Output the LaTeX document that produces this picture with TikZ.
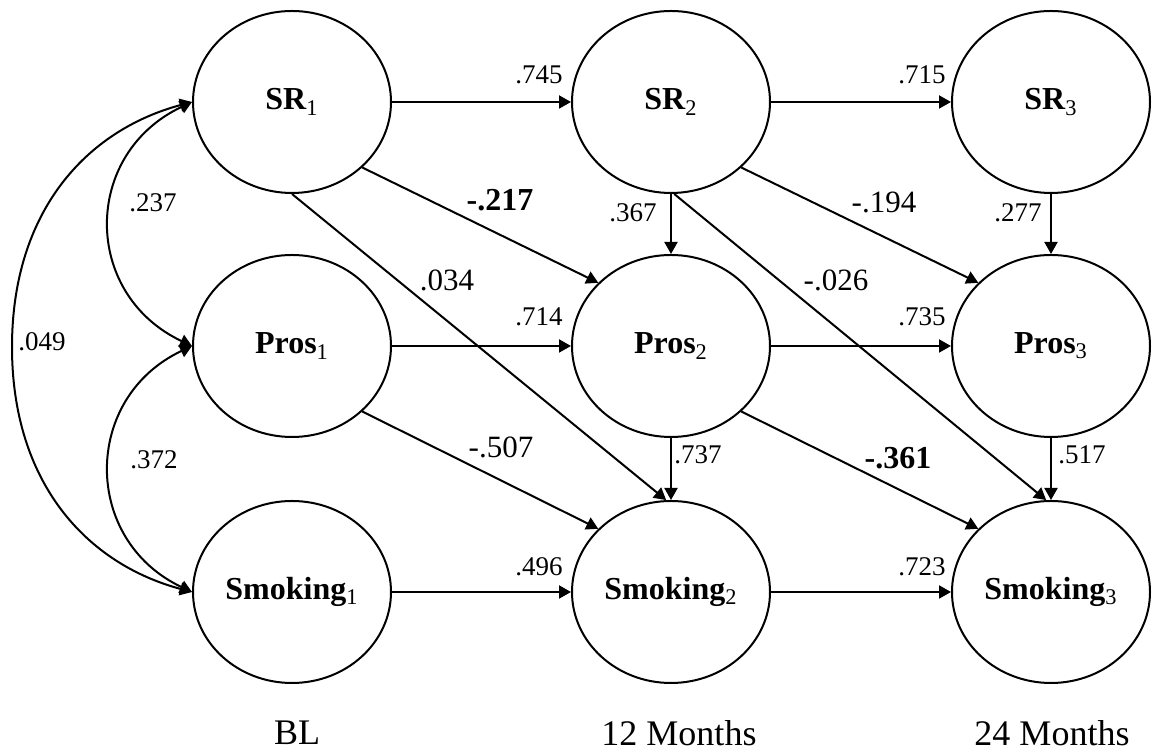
\documentclass[tikz,border=0pt]{standalone}
\usepackage{fontspec}
\setmainfont{Liberation Serif}
\usetikzlibrary{shapes.geometric,arrows.meta}
\begin{document}
\begin{tikzpicture}[x=0.5pt,y=0.5pt,
  lat/.style={ellipse, draw, line width=1pt, minimum width=99pt, minimum height=91pt, inner sep=0pt, font=\fontsize{16pt}{18pt}\selectfont},
  conn/.style={line width=1pt, -{Triangle[length=6pt,width=6.5pt]}},
  dconn/.style={line width=1pt, {Triangle[length=6pt,width=6.5pt]}-{Triangle[length=6pt,width=6.5pt]}},
  lbl/.style={inner sep=0pt, font=\fontsize{13.5pt}{15pt}\selectfont},
  lblbig/.style={inner sep=0pt, font=\fontsize{15.5pt}{17pt}\selectfont},
  lblbold/.style={inner sep=0pt, font=\fontsize{16pt}{18pt}\selectfont\bfseries},
  timelbl/.style={inner sep=0pt, font=\fontsize{18pt}{20pt}\selectfont}]
\useasboundingbox (0,0) rectangle (1152,753);
% latent variables
\node[lat] (SR1) at (292,651) {{\bfseries SR}\textsubscript{1}};
\node[lat] (SR2) at (671,651) {{\bfseries SR}\textsubscript{2}};
\node[lat] (SR3) at (1051,651) {{\bfseries SR}\textsubscript{3}};
\node[lat] (P1) at (292,407) {{\bfseries Pros}\textsubscript{1}};
\node[lat] (P2) at (671,407) {{\bfseries Pros}\textsubscript{2}};
\node[lat] (P3) at (1051,407) {{\bfseries Pros}\textsubscript{3}};
\node[lat] (S1) at (292,161) {{\bfseries Smoking}\textsubscript{1}};
\node[lat] (S2) at (671,161) {{\bfseries Smoking}\textsubscript{2}};
\node[lat] (S3) at (1051,161) {{\bfseries Smoking}\textsubscript{3}};
% horizontal paths
\draw[conn] (SR1.east) -- (SR2.west);
\draw[conn] (SR2.east) -- (SR3.west);
\draw[conn] (P1.east) -- (P2.west);
\draw[conn] (P2.east) -- (P3.west);
\draw[conn] (S1.east) -- (S2.west);
\draw[conn] (S2.east) -- (S3.west);
% vertical paths
\draw[conn] (SR2.south) -- (P2.north);
\draw[conn] (SR3.south) -- (P3.north);
\draw[conn] (P2.south) -- (S2.north);
\draw[conn] (P3.south) -- (S3.north);
% diagonal paths
\draw[conn] (SR1.-43) -- (P2.139);
\draw[conn] (SR2.-43) -- (P3.139);
\draw[conn] (P1.-43) -- (S2.139);
\draw[conn] (P2.-43) -- (S3.139);
\draw[conn] (SR1.south) -- (S2.93);
\draw[conn] (SR2.-88) -- (S3.93);
% correlations
\draw[dconn] (SR1.west) .. controls +(-110,-52) and +(-110,52) .. (P1.west);
\draw[dconn] (P1.west) .. controls +(-110,-52) and +(-110,52) .. (S1.west);
\coordinate (c049) at (12,406);
\draw[dconn] (SR1.west) .. controls +(195:110) and +(0,135) .. (c049) .. controls +(0,-135) and +(165:110) .. (S1.west);
% labels
\node[lbl] (l745) at (539,678) {.745};
\node[lbl] (l715) at (922,678) {.715};
\node[lbl] (l714) at (539,436) {.714};
\node[lbl] (l735) at (922,436) {.735};
\node[lbl] (l496) at (539,186) {.496};
\node[lbl] (l723) at (922,186) {.723};
\node[lblbold] (l217) at (500,553) {-.217};
\node[lblbig] (l034) at (447,473) {.034};
\node[lbl] (l367) at (633,540) {.367};
\node[lblbig] (l194) at (884,551) {-.194};
\node[lbl] (l277) at (1018,540) {.277};
\node[lblbig] (l026) at (836,473) {-.026};
\node[lbl] (l237) at (153,550) {.237};
\node[lbl] (l049) at (42,411) {.049};
\node[lbl] (l372) at (154,293) {.372};
\node[lblbig] (l507) at (501,306) {-.507};
\node[lbl] (l737) at (698,298) {.737};
\node[lblbold] (l361) at (898,295) {-.361};
\node[lbl] (l517) at (1082,298) {.517};
% time labels
\node[timelbl] (tBL) at (297,20) {BL};
\node[timelbl] (t12) at (679,20) {12 Months};
\node[timelbl] (t24) at (1052,20) {24 Months};
\end{tikzpicture}
\end{document}
